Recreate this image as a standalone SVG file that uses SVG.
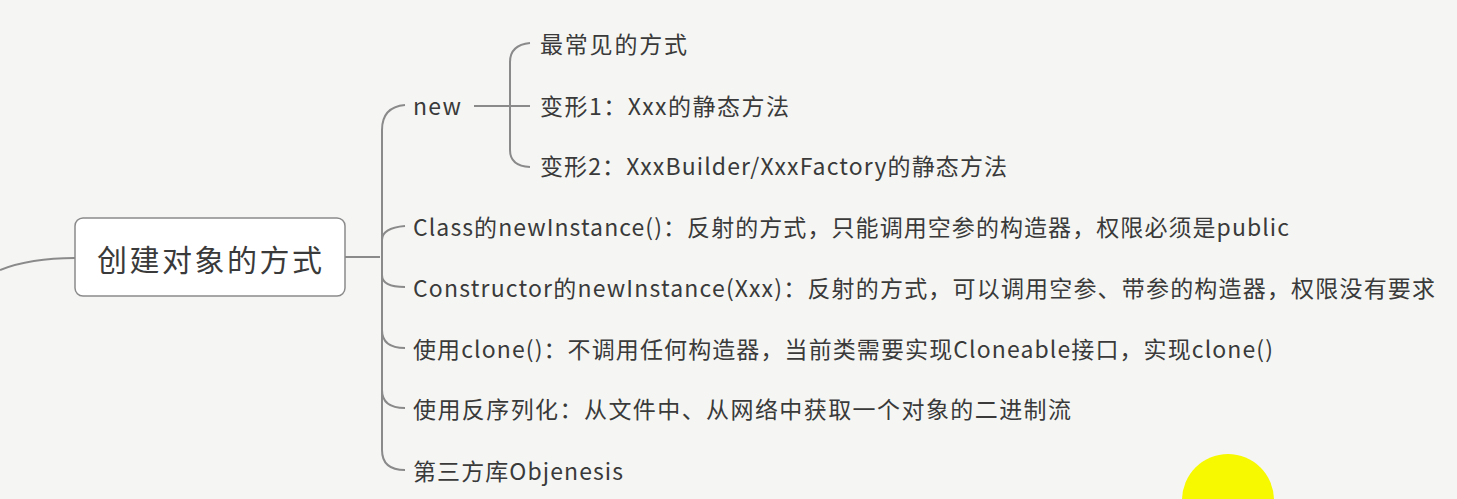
<svg xmlns="http://www.w3.org/2000/svg" width="1457" height="499" viewBox="0 0 1457 499">
<style>
.t{font-family:"Microsoft YaHei","Noto Sans CJK SC",sans-serif;font-size:23px;fill:#3a3a3a}
.c{fill:none;stroke:#8a8a8a;stroke-width:2}
</style>
<rect width="1457" height="499" fill="#f5f6f4"/>
<g id="connectors">
<path class="c" d="M0 270 Q30 258 75 258"/>
<path class="c" d="M345 257 H380"/>
<path class="c" d="M382 257 V130 Q382 107 405 105"/>
<path class="c" d="M382 257 V240 Q382 228 405 226"/>
<path class="c" d="M382 257 V275 Q382 287 405 287"/>
<path class="c" d="M382 257 V330 Q382 348 405 348"/>
<path class="c" d="M382 257 V390 Q382 408 405 408"/>
<path class="c" d="M382 257 V450 Q382 470 405 470"/>
<path class="c" d="M474 106 H530"/>
<path class="c" d="M510 106 V62 Q510 45 530 43"/>
<path class="c" d="M510 106 V150 Q510 166 530 167"/>
</g>
<g id="root">
<rect x="75" y="218" width="270" height="78" rx="8" fill="#ffffff" stroke="#8a8a8a" stroke-width="1.5"/>
<text class="t" x="97" y="271" style="font-size:30px" textLength="225" lengthAdjust="spacing">创建对象的方式</text>
</g>
<g id="n-new"><text class="t" x="413" y="115" textLength="48" lengthAdjust="spacing">new</text></g>
<g id="n-new1"><text class="t" x="540" y="53" textLength="147" lengthAdjust="spacing">最常见的方式</text></g>
<g id="n-new2"><text class="t" x="540" y="115" textLength="249" lengthAdjust="spacing">变形1：Xxx的静态方法</text></g>
<g id="n-new3"><text class="t" x="540" y="175" textLength="467" lengthAdjust="spacing">变形2：XxxBuilder/XxxFactory的静态方法</text></g>
<g id="n-class"><text class="t" x="413" y="236" textLength="876" lengthAdjust="spacing">Class的newInstance()：反射的方式，只能调用空参的构造器，权限必须是public</text></g>
<g id="n-ctor"><text class="t" x="413" y="297" textLength="1022" lengthAdjust="spacing">Constructor的newInstance(Xxx)：反射的方式，可以调用空参、带参的构造器，权限没有要求</text></g>
<g id="n-clone"><text class="t" x="413" y="358" textLength="860" lengthAdjust="spacing">使用clone()：不调用任何构造器，当前类需要实现Cloneable接口，实现clone()</text></g>
<g id="n-ser"><text class="t" x="413" y="418" textLength="658" lengthAdjust="spacing">使用反序列化：从文件中、从网络中获取一个对象的二进制流</text></g>
<g id="n-obj"><text class="t" x="413" y="480" textLength="210" lengthAdjust="spacing">第三方库Objenesis</text></g>
<circle cx="1228" cy="500" r="46" fill="#f6f900"/>
</svg>
